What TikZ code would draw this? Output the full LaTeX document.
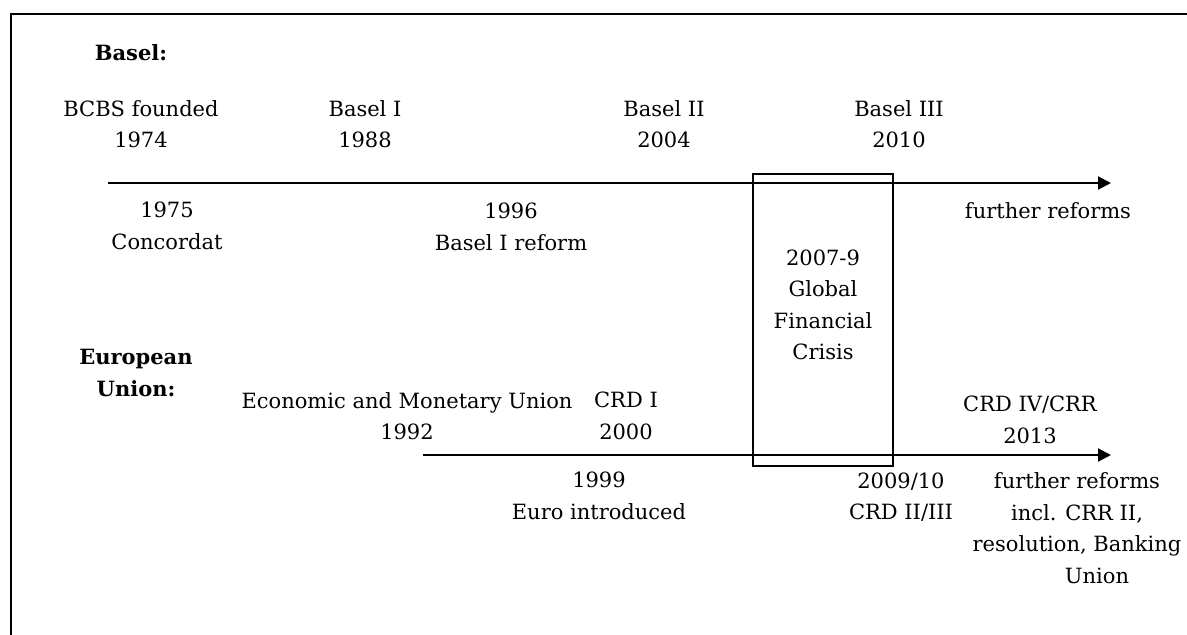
\documentclass[tikz,border=0pt]{standalone}
\usepackage{fontspec}
\setmainfont{DejaVu Serif}
\usetikzlibrary{arrows.meta}
\begin{document}
\begin{tikzpicture}[x=1pt,y=-1pt,
  lbl/.style={align=center, inner sep=0pt, font=\fontsize{21}{31.5}\selectfont},
  head/.style={align=center, inner sep=0pt, font=\fontsize{21}{32}\selectfont\bfseries},
  frameline/.style={line width=2pt},
  axis/.style={line width=2pt, -{Triangle[length=13pt,width=13pt]}}]
\useasboundingbox (0,0) rectangle (1187,635);
% frame (top and left edges)
\draw[frameline] (10.5,635) -- (10.5,14) -- (1187,14);
% Basel timeline
\node[head] (basel) at (131,53) {Basel:};
\node[lbl] (bcbs) at (141,124) {BCBS founded\\1974};
\node[lbl] (b1) at (365,124) {Basel I\\1988};
\node[lbl] (b2) at (664,124) {Basel II\\2004};
\node[lbl] (b3) at (899,124) {Basel III\\2010};
\node[lbl] (conc) at (167,226) {1975\\Concordat};
\node[lbl] (b1r) at (511,227) {1996\\Basel I reform};
\node[lbl] (fr1) at (1048,211) {further reforms};
\coordinate (t0) at (108,183);
\coordinate (t1) at (1111,183);
\draw[axis] (t0) -- (t1);
% EU timeline
\node[head] (eu) at (136,373) {European\\Union:};
\node[lbl] (emu) at (407,416) {Economic and Monetary Union\\1992};
\node[lbl] (crd1) at (626,416) {CRD I\\2000};
\node[lbl] (euro) at (599,496) {1999\\Euro introduced};
\node[lbl] (crd23) at (901,497) {2009/10\\CRD II/III};
\node[lbl] (crd4) at (1030,420) {CRD IV/CRR\\2013};
\node[lbl] (fr2) at (1077,528) {further reforms\\incl. CRR II,\\resolution, Banking\\\hspace*{40pt}Union};
\coordinate (e0) at (423,455);
\coordinate (e1) at (1111,455);
\draw[axis] (e0) -- (e1);
% crisis box
\node[draw, frameline, minimum width=140pt, minimum height=292pt, inner sep=0pt] (gfc) at (823,320) {};
\node[lbl] (gfct) at (823,305) {2007-9\\Global\\Financial\\Crisis};
\end{tikzpicture}
\end{document}
